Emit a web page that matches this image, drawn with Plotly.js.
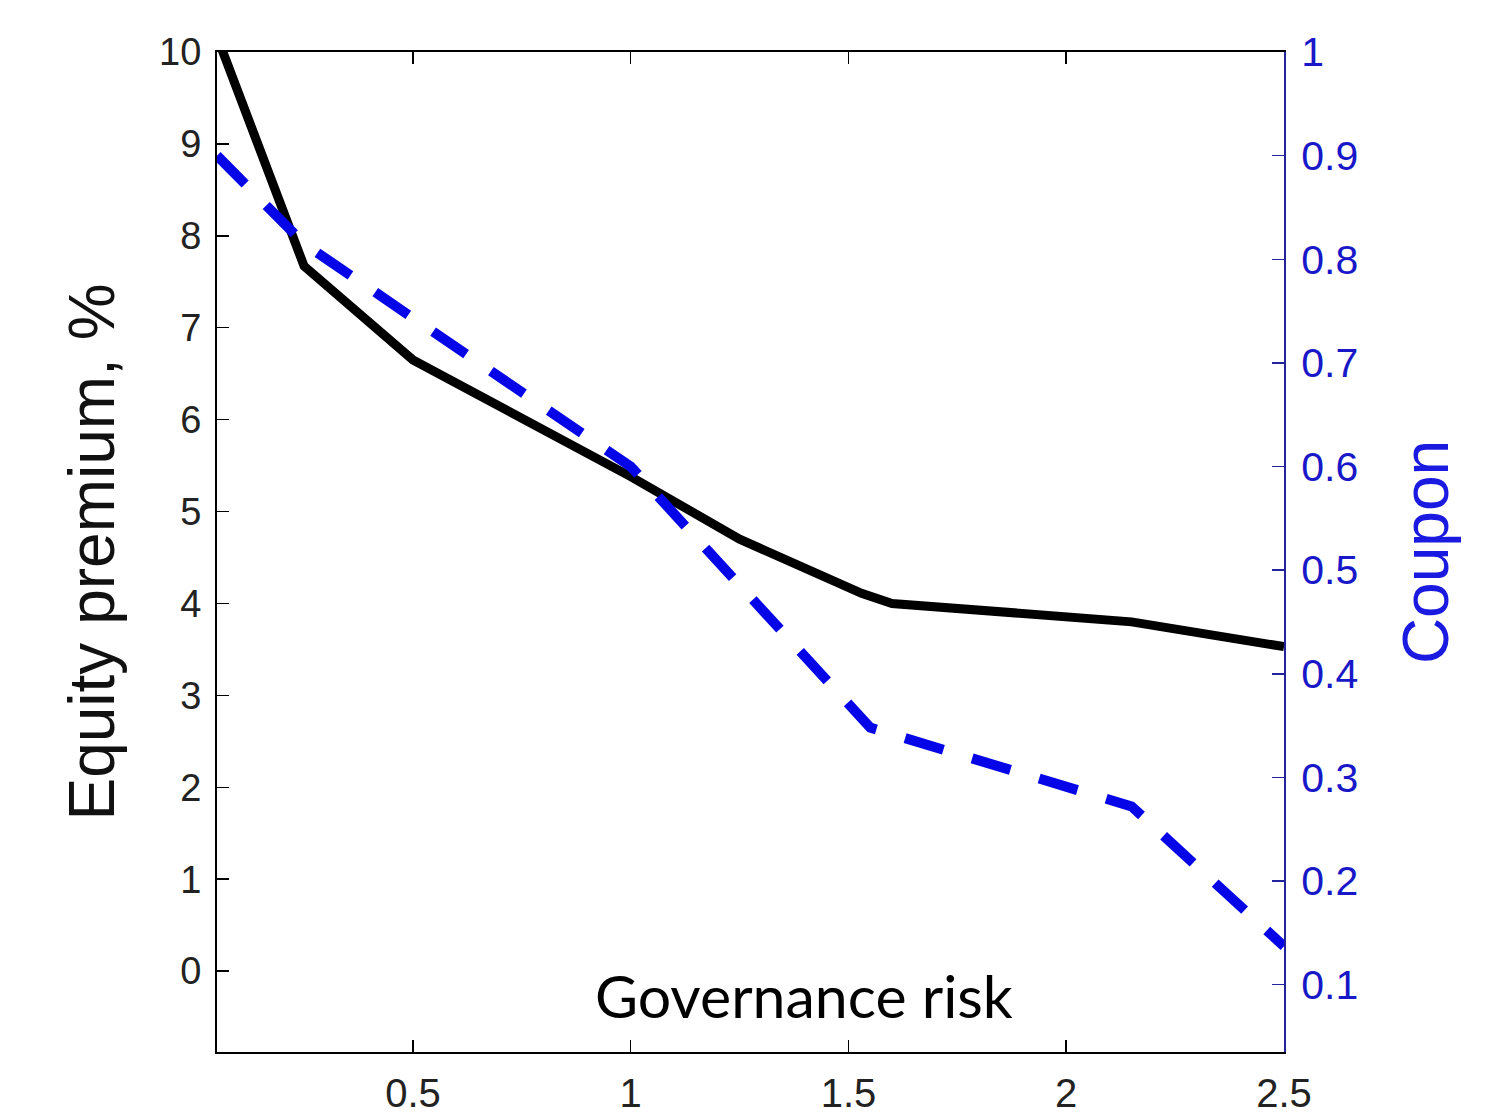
<!DOCTYPE html>
<html><head><meta charset="utf-8">
<script src="https://cdn.plot.ly/plotly-3.0.1.min.js"></script>
<style>html,body{margin:0;padding:0;background:#fff}</style>
</head><body><div id="chart" style="width:1486px;height:1117px"></div>
<script>
// Data
const riskEquity = [0.05, 0.25, 0.5, 0.75, 1.0, 1.25, 1.42, 1.53, 1.6, 1.85, 2.15, 2.5];
const equityPremium = [10.17, 7.67, 6.65, 6.02, 5.38, 4.70, 4.33, 4.11, 4.0, 3.91, 3.80, 3.53];
const riskCoupon = [0.05, 0.25, 1.0, 1.55, 2.15, 2.5];
const coupon = [0.90, 0.815, 0.600, 0.348, 0.272, 0.137];
const xTickVals = [0.5, 1, 1.5, 2, 2.5];
const xTickText = ['0.5', '1', '1.5', '2', '2.5'];
const leftTickVals = [0, 1, 2, 3, 4, 5, 6, 7, 8, 9, 10];
const leftTickText = ['0', '1', '2', '3', '4', '5', '6', '7', '8', '9', '10'];
const rightTickVals = [0.1, 0.2, 0.3, 0.4, 0.5, 0.6, 0.7, 0.8, 0.9, 1];
const rightTickText = ['0.1', '0.2', '0.3', '0.4', '0.5', '0.6', '0.7', '0.8', '0.9', '1'];
const xLabel = 'Governance risk';
const leftLabel = 'Equity premium, %';
const rightLabel = 'Coupon';

const FONT = 'Liberation Sans, Arial, Helvetica, sans-serif';
const BLUE_AXIS = '#23239c';
const BLUE_TEXT = '#1818c8';

const traces = [
  {
    x: riskEquity, y: equityPremium, type: 'scatter', mode: 'lines',
    line: {color: '#000000', width: 9}, yaxis: 'y', showlegend: false, hoverinfo: 'skip'
  },
  {
    x: riskCoupon, y: coupon, type: 'scatter', mode: 'lines',
    line: {color: '#0505e8', width: 10, dash: '40px,30px'}, yaxis: 'y2', showlegend: false, hoverinfo: 'skip'
  }
];

const layout = {
  width: 1486, height: 1117,
  margin: {l: 217, r: 202, t: 52, b: 65},
  paper_bgcolor: '#ffffff', plot_bgcolor: '#ffffff',
  showlegend: false,
  xaxis: {
    range: [0.05, 2.5], tickvals: xTickVals, ticktext: xTickText,
    ticks: 'inside', ticklen: 12, tickwidth: 1.5, tickcolor: '#000',
    showline: true, linecolor: '#000', linewidth: 2, mirror: 'ticks',
    showgrid: false, zeroline: false,
    tickfont: {family: FONT, size: 40, color: '#222'},
    ticklabelstandoff: 5
  },
  yaxis: {
    range: [-0.88, 10], tickvals: leftTickVals, ticktext: leftTickText,
    ticks: 'inside', ticklen: 12, tickwidth: 1.5, tickcolor: '#000',
    showline: true, linecolor: '#000', linewidth: 2,
    showgrid: false, zeroline: false,
    tickfont: {family: FONT, size: 38, color: '#222'},
    ticklabelstandoff: 6,
    title: {text: leftLabel, font: {family: FONT, size: 64, color: '#111'}, standoff: 24}
  },
  yaxis2: {
    overlaying: 'y', side: 'right', anchor: 'x',
    range: [0.035, 1], tickvals: rightTickVals, ticktext: rightTickText,
    ticks: 'inside', ticklen: 12, tickwidth: 1.5, tickcolor: BLUE_AXIS,
    showline: true, linecolor: BLUE_AXIS, linewidth: 2,
    showgrid: false, zeroline: false,
    tickfont: {family: FONT, size: 41, color: BLUE_TEXT},
    ticklabelstandoff: 7,
    title: {text: rightLabel, font: {family: FONT, size: 64, color: '#1a1ae0'}, standoff: 46}
  },
  annotations: [{
    text: xLabel, xref: 'paper', yref: 'paper', x: 0.550, y: 0.057,
    xanchor: 'center', yanchor: 'middle', showarrow: false,
    font: {family: 'Lato, Open Sans, sans-serif', size: 59, color: '#000'}
  }]
};

Plotly.newPlot('chart', traces, layout, {staticPlot: true, displayModeBar: false});
</script>
</body></html>
